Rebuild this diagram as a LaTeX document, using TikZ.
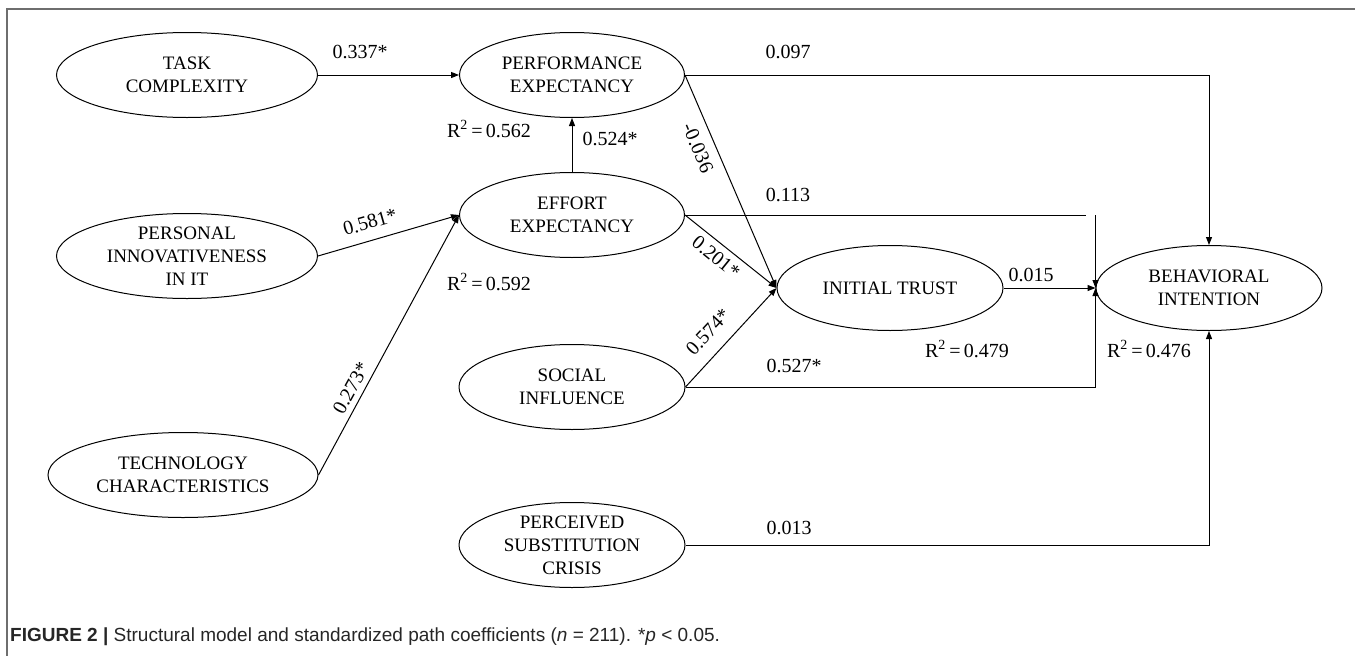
\documentclass[tikz,border=0pt]{standalone}
\usepackage{fontspec}
\setmainfont{Liberation Serif}
\newfontfamily\captionfont{Liberation Sans}
\usetikzlibrary{shapes.geometric}
\usetikzlibrary{arrows.meta}
\definecolor{framegray}{RGB}{110,110,110}

\begin{document}
\begin{tikzpicture}[x=1pt, y=-1pt,
  construct/.style={draw, ellipse, line width=1pt, inner sep=-4pt, minimum height=85pt, align=center, font=\fontsize{19}{23}\selectfont},
  arr/.style={line width=1pt, -{Triangle[length=8pt,width=6pt]}},
  plain/.style={line width=1pt},
  coef/.style={inner sep=0pt, font=\fontsize{20}{24}\selectfont}]
\useasboundingbox (0,0) rectangle (1355,656);
\draw[framegray, line width=1.6pt] (7,656) -- (7,9) -- (1355,9);
\node[construct, minimum width=261pt] (TC) at (187,75) {TASK\\COMPLEXITY};
\node[construct, minimum width=225pt] (PE) at (572,75) {PERFORMANCE\\EXPECTANCY};
\node[construct, minimum width=225pt] (EE) at (572,215) {EFFORT\\EXPECTANCY};
\node[construct, minimum width=261pt] (PI) at (187,256) {PERSONAL\\INNOVATIVENESS\\IN IT};
\node[construct, minimum width=270pt] (TCH) at (183,475) {TECHNOLOGY\\CHARACTERISTICS};
\node[construct, minimum width=226pt] (SI) at (572,387) {SOCIAL\\INFLUENCE};
\node[construct, minimum width=226pt] (PSC) at (572,545) {PERCEIVED\\SUBSTITUTION\\CRISIS};
\node[construct, minimum width=226pt] (IT) at (890,288) {INITIAL TRUST};
\node[construct, minimum width=226pt] (BI) at (1209,288) {BEHAVIORAL\\INTENTION};
\draw[arr] (TC.east) -- (PE.west);
\draw[arr] (EE.north) -- (PE.south);
\draw[arr] (PI.east) -- (EE.west);
\draw[arr] (TCH.east) -- (EE.west);
\draw[arr] (PE.east) -- (IT.west);
\draw[arr] (EE.east) -- (IT.west);
\draw[arr] (SI.east) -- (IT.west);
\draw[arr] (PE.east) -| (BI.north);
\draw[plain] (EE.east) -- ([xshift=-10pt]EE.east -| BI.west);
\draw[arr] (EE.east -| BI.west) -- (BI.west);
\draw[arr] (IT.east) -- (BI.west);
\draw[arr] (SI.east) -| (BI.west);
\draw[arr] (PSC.east) -| (BI.south);
\node[coef] (c_tc) at (360,52) {0.337*};
\node[coef] (c_pe_bi) at (788,52) {0.097};
\node[coef] (c_ee_pe) at (610,139) {0.524*};
\node[coef] (r_pe) at (489,129) {R\textsuperscript{2}\,=\,0.562};
\node[coef, rotate=16] (c_pi) at (370,222) {0.581*};
\node[coef] (r_ee) at (489,282) {R\textsuperscript{2}\,=\,0.592};
\node[coef, rotate=61] (c_tch) at (351,388) {0.273*};
\node[coef, rotate=-67] (c_pe_it) at (698,148) {-0.036};
\node[coef] (c_ee_bi) at (788,195) {0.113};
\node[coef, rotate=-39] (c_ee_it) at (716,257) {0.201*};
\node[coef] (c_it_bi) at (1031,275) {0.015};
\node[coef, rotate=47] (c_si_it) at (708,332) {0.574*};
\node[coef] (r_it) at (967,349) {R\textsuperscript{2}\,=\,0.479};
\node[coef] (r_bi) at (1149,349) {R\textsuperscript{2}\,=\,0.476};
\node[coef] (c_si_bi) at (794,366) {0.527*};
\node[coef] (c_psc) at (789,528) {0.013};
\node[anchor=west, inner sep=0pt, text=black!85, font=\captionfont\fontsize{19}{22}\selectfont] (caption) at (10,637) {\textbf{FIGURE 2 |} Structural model and standardized path coefficients (\textit{n} = 211). *\textit{p} < 0.05.};
\end{tikzpicture}
\end{document}
